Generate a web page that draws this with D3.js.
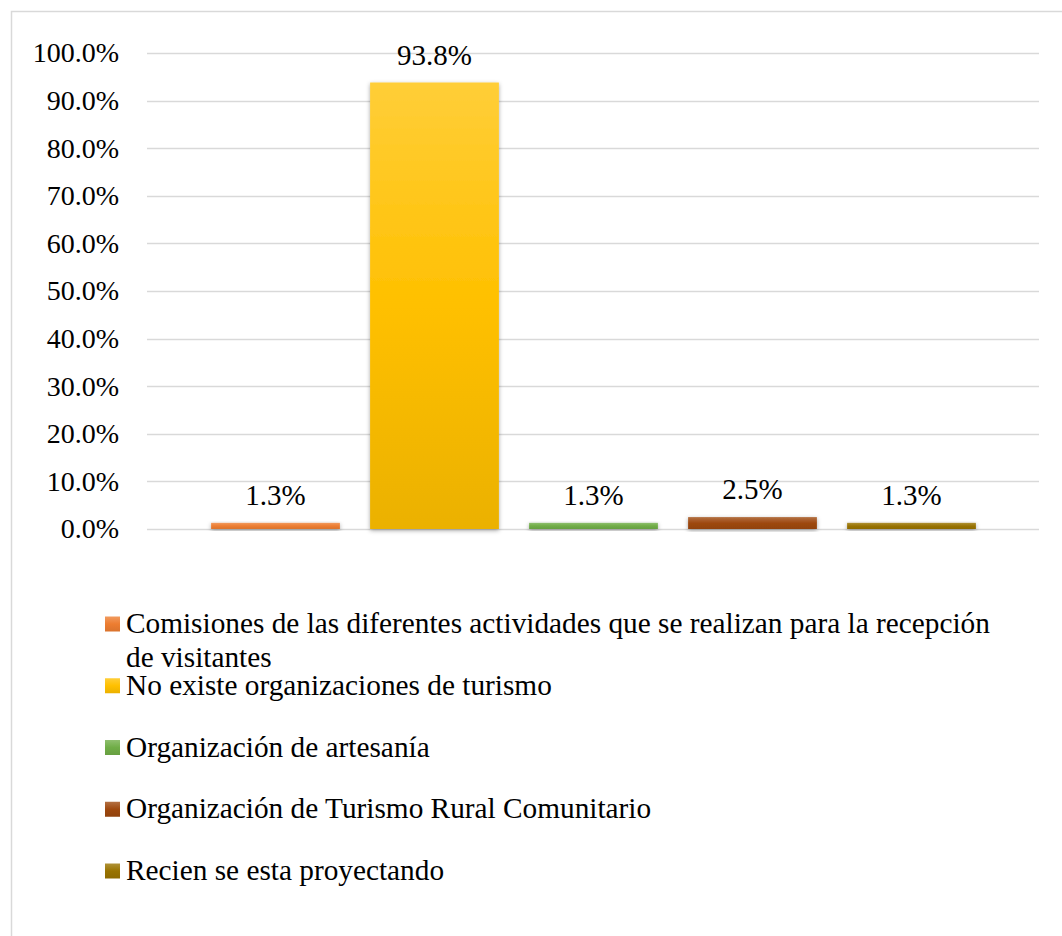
<!DOCTYPE html>
<html>
<head>
<meta charset="utf-8">
<script src="https://cdn.jsdelivr.net/npm/d3@7"></script>
<style>
  body { margin: 0; background: #fff; }
</style>
</head>
<body>
<svg id="chart" width="1062" height="936" font-family="Liberation Serif"></svg>
<script>
// data
const categories = [
  'Comisiones de las diferentes actividades que se realizan para la recepción de visitantes',
  'No existe organizaciones de turismo',
  'Organización de artesanía',
  'Organización de Turismo Rural Comunitario',
  'Recien se esta proyectando'
];
const values = [0.013, 0.938, 0.013, 0.025, 0.013];
const labels = ['1.3%', '93.8%', '1.3%', '2.5%', '1.3%'];
const ticks = [0, 0.1, 0.2, 0.3, 0.4, 0.5, 0.6, 0.7, 0.8, 0.9, 1.0];
const colors = ['#ED7D31', '#FFC000', '#70AD47', '#9E480E', '#997300'];
// legend line breaks (as wrapped in the original)
const legendLines = [
  ['Comisiones de las diferentes actividades que se realizan para la recepción', 'de visitantes'],
  ['No existe organizaciones de turismo'],
  ['Organización de artesanía'],
  ['Organización de Turismo Rural Comunitario'],
  ['Recien se esta proyectando']
];

const FONT = 'Liberation Serif';
const tickSize = 28, labelSize = 29, legendSize = 29.3;
const svg = d3.select('#chart');

// outer frame
svg.append('rect')
  .attr('x', 11.5).attr('y', 11.5)
  .attr('width', 1062).attr('height', 936)
  .attr('fill', 'none').attr('stroke', '#d9d9d9').attr('stroke-width', 1.5);

const defs = svg.append('defs');
colors.forEach((c, i) => {
  const g = defs.append('linearGradient').attr('id', 'grad' + i)
    .attr('x1', 0).attr('y1', 0).attr('x2', 0).attr('y2', 1);
  g.append('stop').attr('offset', '0%').attr('stop-color', d3.interpolateRgb(c, '#fff')(0.22));
  g.append('stop').attr('offset', '50%').attr('stop-color', c);
  g.append('stop').attr('offset', '100%').attr('stop-color', d3.interpolateRgb(c, '#000')(0.08));
});
const shadow = defs.append('filter').attr('id', 'shadow')
  .attr('x', '-20%').attr('y', '-20%').attr('width', '140%').attr('height', '140%');
shadow.append('feDropShadow').attr('dx', 0).attr('dy', 1.5)
  .attr('stdDeviation', 2).attr('flood-color', '#000').attr('flood-opacity', 0.35);

const y = d3.scaleLinear().domain([0, 1]).range([529, 53]);
const x = d3.scaleBand().domain(categories).range([196, 991]).paddingInner(0.19).paddingOuter(0.095);

// gridlines
svg.append('g').selectAll('line').data(ticks).join('line')
  .attr('x1', 147).attr('x2', 1039)
  .attr('y1', d => Math.round(y(d)) + 0.5).attr('y2', d => Math.round(y(d)) + 0.5)
  .attr('stroke', '#d9d9d9').attr('stroke-width', 1.5);

// y axis labels
const yAxis = svg.append('g').attr('transform', 'translate(119,0)')
  .call(d3.axisLeft(y).tickValues(ticks).tickSize(0).tickPadding(0).tickFormat(d3.format('.1%')))
  .attr('font-family', FONT).attr('font-size', tickSize);
yAxis.select('.domain').remove();
yAxis.selectAll('text').attr('font-family', FONT).attr('fill', '#000');

// bars
svg.append('g').selectAll('rect').data(values).join('rect')
  .attr('x', (d, i) => x(categories[i]))
  .attr('width', x.bandwidth())
  .attr('y', d => y(d))
  .attr('height', d => y(0) - y(d))
  .attr('fill', (d, i) => `url(#grad${i})`)
  .attr('filter', 'url(#shadow)');

// data labels
svg.append('g').selectAll('text').data(values).join('text')
  .attr('x', (d, i) => x(categories[i]) + x.bandwidth() / 2)
  .attr('y', d => y(d) - 18)
  .attr('text-anchor', 'middle')
  .attr('font-family', FONT)
  .attr('font-size', labelSize)
  .attr('fill', '#000')
  .text((d, i) => labels[i]);

// legend
const legend = svg.append('g');
const rowY = d3.scalePoint().domain(d3.range(categories.length)).range([624, 871]);
categories.forEach((c, i) => {
  const cy = rowY(i);
  legend.append('rect')
    .attr('x', 105).attr('y', cy - 7.5).attr('width', 15).attr('height', 15)
    .attr('fill', `url(#grad${i})`);
  const t = legend.append('text')
    .attr('x', 126).attr('y', cy + 9)
    .attr('font-family', FONT)
    .attr('font-size', legendSize).attr('fill', '#000');
  legendLines[i].forEach((ln, j) => {
    t.append('tspan').attr('x', 126).attr('dy', j === 0 ? 0 : 34).text(ln);
  });
});
</script>
</body>
</html>
